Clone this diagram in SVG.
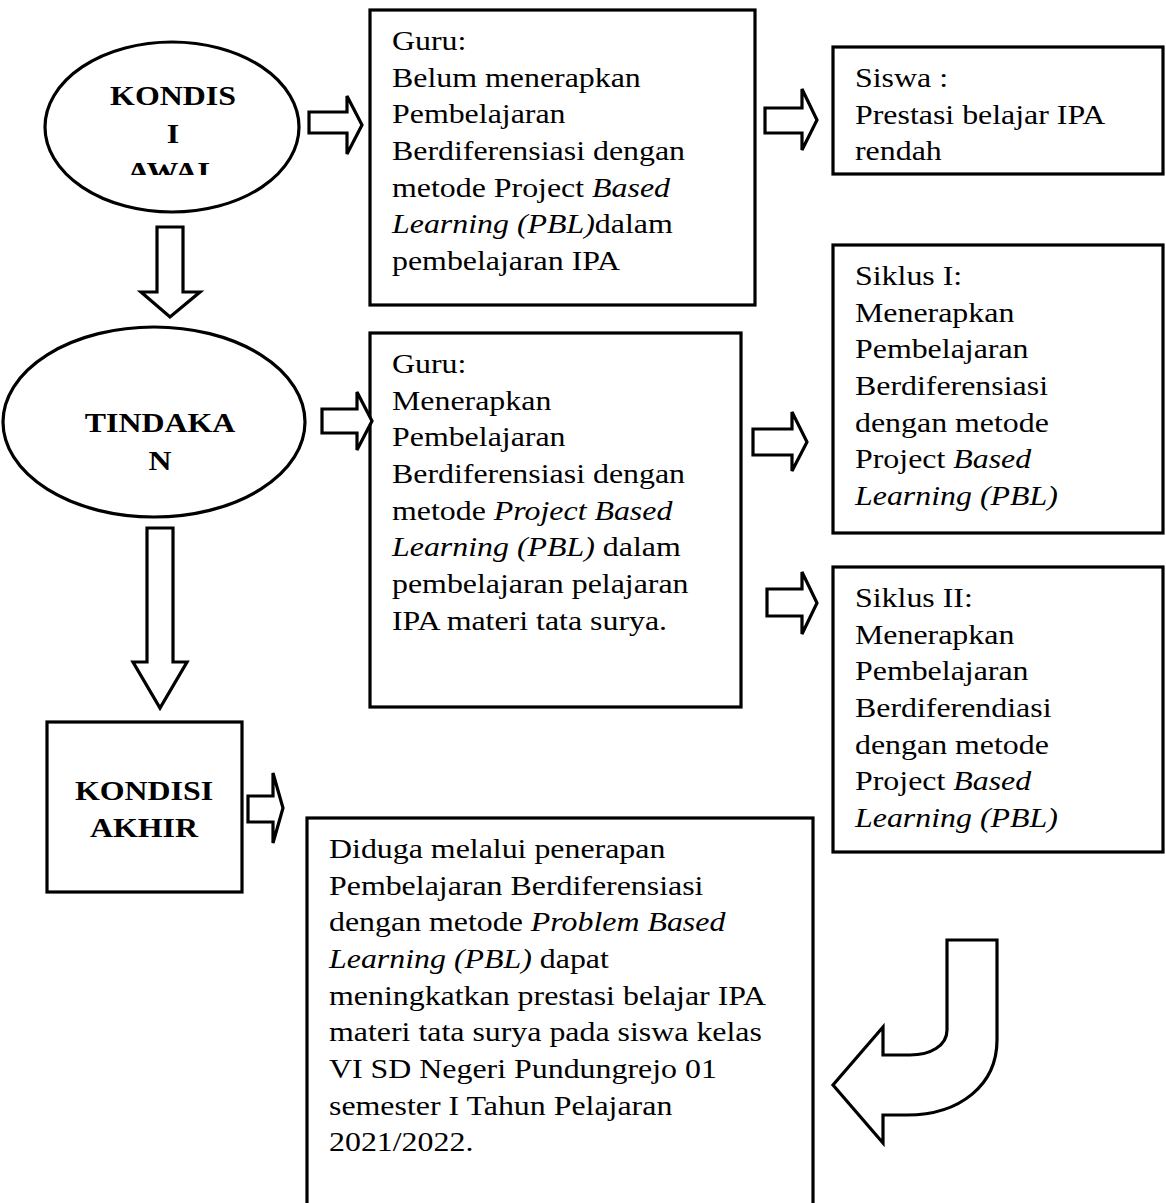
<svg xmlns="http://www.w3.org/2000/svg" width="1166" height="1203" viewBox="0 0 1166 1203">
<style>
.s{fill:#fff;stroke:#000;stroke-width:3.2;stroke-linejoin:miter}
.t{font-family:"Liberation Serif","Times New Roman",serif;font-size:27.5px;fill:#000}
.b{font-weight:bold}
.i{font-style:italic}
</style>
<defs>
<clipPath id="clipAwal"><rect x="-200" y="0" width="400" height="175"/></clipPath>
</defs>
<rect width="1166" height="1203" fill="#fff"/>

<g id="kondisi-awal">
<ellipse class="s" cx="172" cy="127" rx="127" ry="85"/>
<text class="t b" text-anchor="middle" transform="matrix(1.16 0 0 1 173 0)" clip-path="url(#clipAwal)"><tspan x="0" y="105">KONDIS</tspan><tspan x="0" y="143">I</tspan><tspan x="0" y="181">AWAL</tspan></text>
</g>

<g id="guru-awal">
<rect class="s" x="370" y="10" width="385" height="295"/>
<text class="t" transform="matrix(1.16 0 0 1 392 0)"><tspan x="0" y="50">Guru:</tspan><tspan x="0" y="87">Belum menerapkan</tspan><tspan x="0" y="123">Pembelajaran</tspan><tspan x="0" y="160">Berdiferensiasi dengan</tspan><tspan x="0" y="197">metode Project <tspan class="i">Based</tspan></tspan><tspan x="0" y="233"><tspan class="i">Learning (PBL)</tspan>dalam</tspan><tspan x="0" y="270">pembelajaran IPA</tspan></text>
</g>

<g id="siswa">
<rect class="s" x="833" y="47" width="330" height="127"/>
<text class="t" transform="matrix(1.16 0 0 1 855 0)"><tspan x="0" y="87">Siswa :</tspan><tspan x="0" y="124">Prestasi belajar IPA</tspan><tspan x="0" y="160">rendah</tspan></text>
</g>

<g id="tindakan">
<ellipse class="s" cx="154" cy="422" rx="151" ry="95"/>
<text class="t b" text-anchor="middle" transform="matrix(1.16 0 0 1 160 0)"><tspan x="0" y="432">TINDAKA</tspan><tspan x="0" y="470">N</tspan></text>
</g>

<g id="guru-tindakan">
<rect class="s" x="370" y="333" width="371" height="374"/>
<text class="t" transform="matrix(1.16 0 0 1 392 0)"><tspan x="0" y="373">Guru:</tspan><tspan x="0" y="410">Menerapkan</tspan><tspan x="0" y="446">Pembelajaran</tspan><tspan x="0" y="483">Berdiferensiasi dengan</tspan><tspan x="0" y="520">metode <tspan class="i">Project Based</tspan></tspan><tspan x="0" y="556"><tspan class="i">Learning (PBL)</tspan> dalam</tspan><tspan x="0" y="593">pembelajaran pelajaran</tspan><tspan x="0" y="630">IPA materi tata surya.</tspan></text>
</g>

<g id="siklus-1">
<rect class="s" x="833" y="245" width="330" height="288"/>
<text class="t" transform="matrix(1.16 0 0 1 855 0)"><tspan x="0" y="285">Siklus I:</tspan><tspan x="0" y="322">Menerapkan</tspan><tspan x="0" y="358">Pembelajaran</tspan><tspan x="0" y="395">Berdiferensiasi</tspan><tspan x="0" y="432">dengan metode</tspan><tspan x="0" y="468">Project <tspan class="i">Based</tspan></tspan><tspan x="0" y="505"><tspan class="i">Learning (PBL)</tspan></tspan></text>
</g>

<g id="siklus-2">
<rect class="s" x="833" y="567" width="330" height="285"/>
<text class="t" transform="matrix(1.16 0 0 1 855 0)"><tspan x="0" y="607">Siklus II:</tspan><tspan x="0" y="644">Menerapkan</tspan><tspan x="0" y="680">Pembelajaran</tspan><tspan x="0" y="717">Berdiferendiasi</tspan><tspan x="0" y="754">dengan metode</tspan><tspan x="0" y="790">Project <tspan class="i">Based</tspan></tspan><tspan x="0" y="827"><tspan class="i">Learning (PBL)</tspan></tspan></text>
</g>

<g id="kondisi-akhir">
<rect class="s" x="47" y="722" width="195" height="170"/>
<text class="t b" text-anchor="middle" transform="matrix(1.16 0 0 1 144 0)"><tspan x="0" y="800">KONDISI</tspan><tspan x="0" y="837">AKHIR</tspan></text>
</g>

<g id="hipotesis">
<rect class="s" x="307" y="818" width="506" height="400"/>
<text class="t" transform="matrix(1.16 0 0 1 329 0)"><tspan x="0" y="858">Diduga melalui penerapan</tspan><tspan x="0" y="895">Pembelajaran Berdiferensiasi</tspan><tspan x="0" y="931">dengan metode <tspan class="i">Problem Based</tspan></tspan><tspan x="0" y="968"><tspan class="i">Learning (PBL)</tspan> dapat</tspan><tspan x="0" y="1005">meningkatkan prestasi belajar IPA</tspan><tspan x="0" y="1041">materi tata surya pada siswa kelas</tspan><tspan x="0" y="1078">VI SD Negeri Pundungrejo 01</tspan><tspan x="0" y="1115">semester I Tahun Pelajaran</tspan><tspan x="0" y="1151">2021/2022.</tspan></text>
</g>

<g id="connectors">
<polygon class="s" points="309,112 347,112 347,96 362,125 347,154 347,133 309,133"/>
<polygon class="s" points="765,108 802,108 802,89 817,120 802,150 802,133 765,133"/>
<polygon class="s" points="157,227 183,227 183,292 200,292 170,317 141,292 157,292"/>
<polygon class="s" points="322,409 357,409 357,392 372,421 357,450 357,433 322,433"/>
<polygon class="s" points="753,429 792,429 792,412 807,442 792,471 792,455 753,455"/>
<polygon class="s" points="767,589 802,589 802,572 817,603 802,634 802,616 767,616"/>
<polygon class="s" points="147,528 173,528 173,662 187,662 160,708 133,662 147,662"/>
<polygon class="s" points="248,796 273,796 273,773 283,808 273,843 273,822 248,822"/>
<path class="s" d="M947,940 L997,940 L997,1040 C997,1085 960,1115 907,1115 L883,1115 L883,1143 L833,1085 L883,1027 L883,1055 L910,1055 C930,1055 947,1046 947,1030 Z"/>
</g>
</svg>
